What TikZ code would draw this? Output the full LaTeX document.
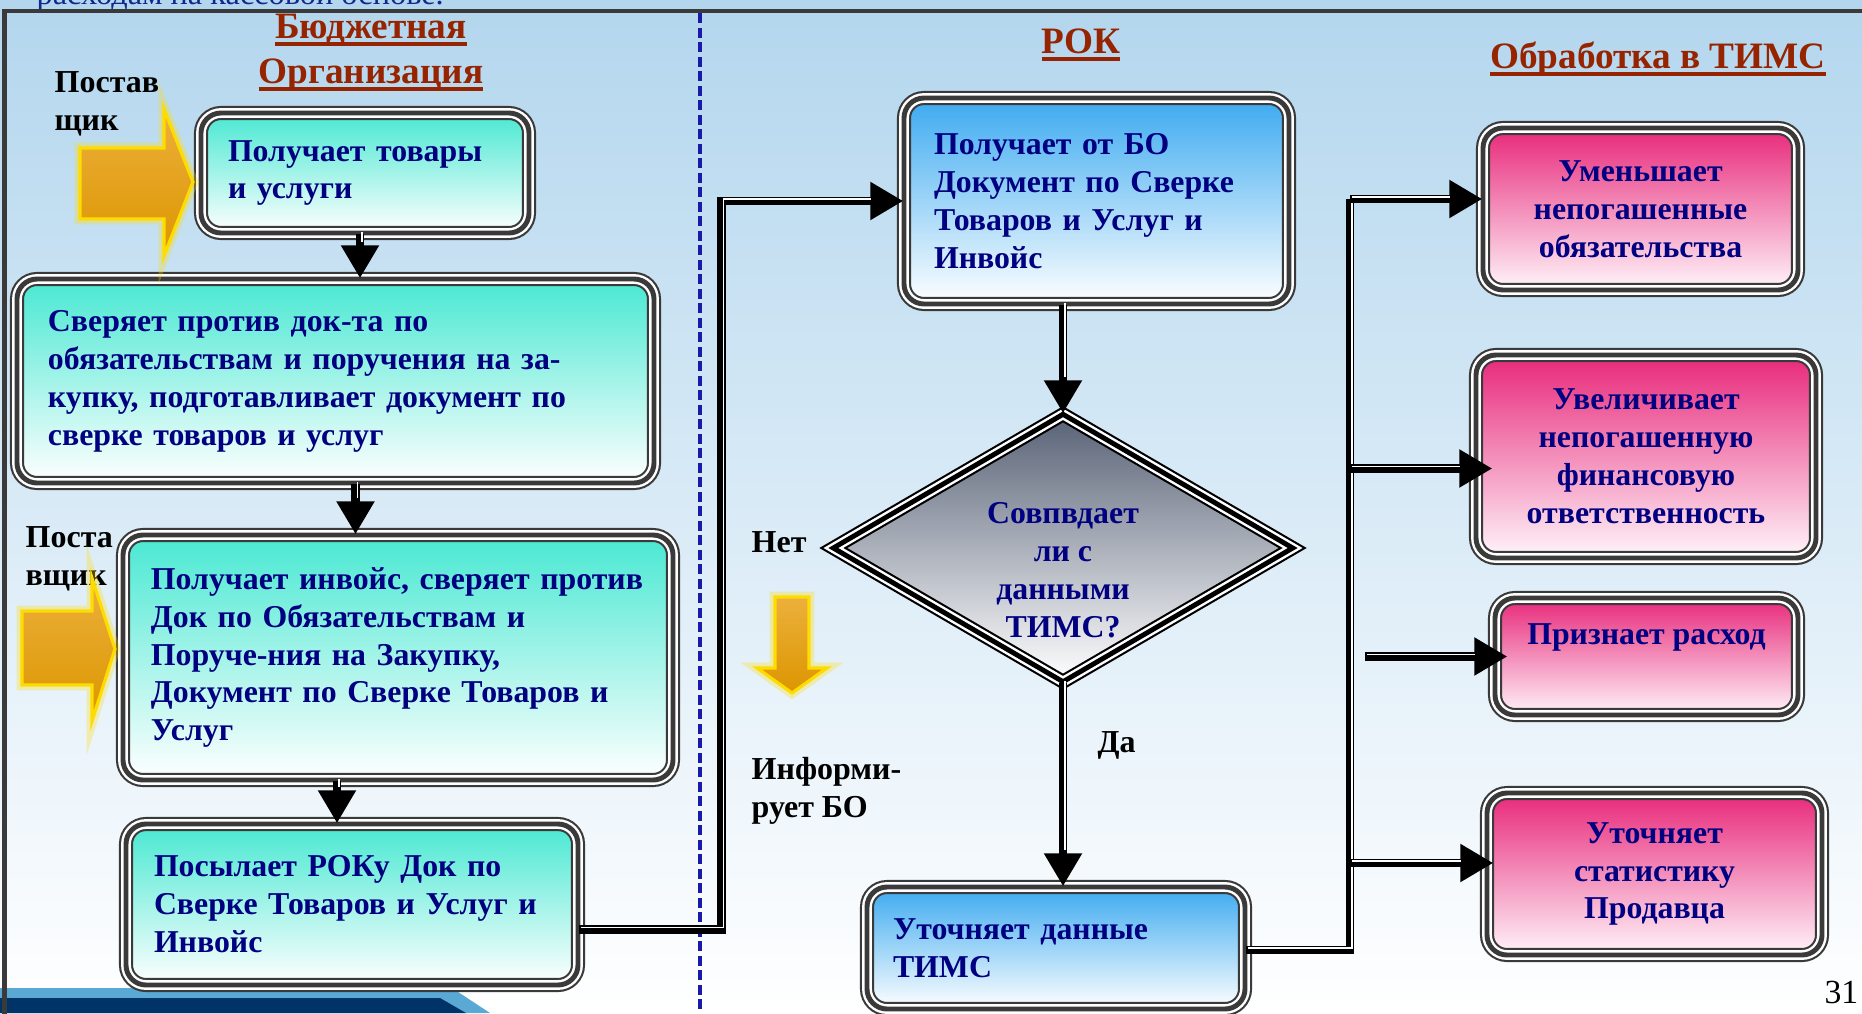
\documentclass[tikz,border=0pt]{standalone}
\usepackage{fontspec}
\setmainfont{Liberation Serif}
\usepackage{xcolor}
\definecolor{navytext}{RGB}{0, 0, 128}
\definecolor{headred}{RGB}{150, 36, 0}
\definecolor{rimgray}{RGB}{58, 58, 58}
\definecolor{skyblue}{RGB}{179, 214, 238}
\definecolor{tealtop}{RGB}{72, 232, 210}
\definecolor{bluetop}{RGB}{60, 170, 240}
\definecolor{pinktop}{RGB}{232, 40, 122}
\definecolor{pinkbot}{RGB}{255, 245, 250}
\definecolor{slatetop}{RGB}{88, 98, 118}
\definecolor{orangetop}{RGB}{236, 176, 60}
\definecolor{orangebot}{RGB}{220, 150, 0}
\definecolor{orangerim}{RGB}{255, 220, 0}
\definecolor{dashblue}{RGB}{25, 25, 170}
\definecolor{stripdark}{RGB}{0, 52, 104}
\definecolor{striplight}{RGB}{90, 168, 212}
\definecolor{topblue}{RGB}{20, 40, 140}
\usepackage{tikz}
\usetikzlibrary{
    shapes.geometric,
    arrows.meta,
    positioning
}
\newcommand{\ulhead}[1]{%
    \setbox0=\hbox{#1}%
    \rlap{\raisebox{-0.075cm}{\rule{\wd0}{0.035cm}}}\box0}
\tikzstyle{box} = [
    rectangle,
    rounded corners=0.2cm,
    text=navytext,
    font=\fontsize{9.05}{10.8}\selectfont\bfseries,
    align=left,
    inner ysep=0.1cm,
    postaction={draw=rimgray, line width=4pt},
    postaction={draw=white, line width=2.8pt},
    postaction={draw=rimgray, line width=1.4pt}
]
\tikzstyle{tealbox} = [box, top color=tealtop, bottom color=white]
\tikzstyle{bluebox} = [box, top color=bluetop, bottom color=white]
\tikzstyle{pinkbox} = [box, top color=pinktop, bottom color=pinkbot, align=center, inner xsep=0.1cm]
\tikzstyle{check} = [
    diamond,
    minimum width=4.6cm,
    minimum height=2.68cm,
    inner sep=0pt,
    top color=slatetop,
    bottom color=white,
    postaction={draw=black, line width=4pt},
    postaction={draw=white, line width=2.8pt},
    postaction={draw=black, line width=1.4pt}
]
\tikzstyle{note} = [
    font=\fontsize{9.1}{10.7}\selectfont\bfseries,
    align=left,
    inner sep=0pt,
    anchor=base west
]
\tikzstyle{wire} = [
    line width=2.4pt,
    draw=black,
    postaction={draw=white, line width=0.45pt,
        transform canvas={shift={(0.55pt,0.55pt)}}}
]
\tikzstyle{arrow} = [
    line width=2.4pt,
    draw=black,
    -{Triangle[length=0.33cm, width=0.36cm]},
    postaction={draw=white, line width=0.45pt, -, shorten >=0.34cm,
        transform canvas={shift={(0.55pt,0.55pt)}}}
]
\tikzstyle{supply} = [
    draw=orangerim,
    line width=0.9pt,
    top color=orangetop,
    bottom color=orangebot,
    preaction={draw=orangerim, line width=3pt, opacity=0.3}
]

\begin{document}
\begin{tikzpicture}[
    heading/.style={
        font=\fontsize{10.6}{12.8}\selectfont\bfseries,
        text=headred,
        align=center,
        inner sep=0pt,
        anchor=base
    }
]
\useasboundingbox (0,0) rectangle (18.62,-10.13);
\shade[top color=skyblue, bottom color=white] (0,0) rectangle (18.62,-10.13);

% Streifen unten links
\fill[striplight] (0,-9.88) -- (4.52,-9.88) -- (4.90,-10.13) -- (0,-10.13) -- cycle;
\fill[stripdark] (0,-9.98) -- (4.40,-9.98) -- (4.66,-10.13) -- (0,-10.13) -- cycle;

\node (topline) [anchor=base west, inner sep=0pt, text=topblue,
    font=\fontsize{9.2}{11}\selectfont] at (0.36,-0.04)
    {расходам на кассовой основе.};

% Rahmen und Trennlinie
\draw[rimgray, line width=1.2pt] (0.045,-10.3) -- (0.045,-0.11) -- (18.8,-0.11);
\draw[dashblue, line width=1.1pt, dash pattern=on 0.1cm off 0.045cm]
    (7.00,-0.13) -- (7.00,-10.13);

\node (hbo) [heading] at (3.71,-0.83) {\ulhead{Бюджетная}\\\ulhead{Организация}};
\node (hrok) [heading] at (10.81,-0.53) {\ulhead{РОК}};
\node (htims) [heading] at (16.58,-0.68) {\ulhead{Обработка в ТИМС}};

\node (sup1) [note] at (0.54,-1.30) {Постав\\щик};
\node (sup2) [note] at (0.25,-5.85) {Поста\\вщик};

% Bloecke der BO
\node (b1) [tealbox, minimum width=3.28cm, minimum height=1.20cm,
    inner xsep=0.27cm, text width=2.74cm] at (3.65,-1.73)
    {Получает товары\\и услуги};
\node (b2) [tealbox, minimum width=6.37cm, minimum height=2.04cm,
    inner xsep=0.31cm, text width=5.75cm] at (3.355,-3.81)
    {Сверяет против док-та  по\\обязательствам и поручения на за-\\купку, подготавливает документ по\\сверке  товаров и услуг};
\node (b3) [tealbox, minimum width=5.50cm, minimum height=2.45cm,
    inner xsep=0.28cm, text width=4.94cm] at (3.98,-6.575)
    {Получает инвойс, сверяет против\\Док по Обязательствам и\\Поруче-ния на Закупку,\\Документ по Сверке Товаров и\\Услуг};
\node (b4) [tealbox, minimum width=4.52cm, minimum height=1.61cm,
    inner xsep=0.28cm, text width=3.96cm] at (3.52,-9.045)
    {Посылает РОКу Док по\\Сверке  Товаров  и Услуг и\\Инвойс};

% Bloecke des ROK
\node (b5) [bluebox, minimum width=3.85cm, minimum height=2.06cm,
    inner xsep=0.30cm, text width=3.25cm] at (10.965,-2.01)
    {Получает от БО\\Документ по Сверке\\Товаров и  Услуг и\\Инвойс};
\node (d) [check] at (10.63,-5.48) {};
\node (dq) [font=\fontsize{9.05}{10.8}\selectfont\bfseries, text=navytext,
    align=center, inner sep=0pt] at ([yshift=-0.22cm]d.center)
    {Совпвдает\\ли с\\данными\\ТИМС?};
\node (b6) [bluebox, minimum width=3.78cm, minimum height=1.22cm,
    inner xsep=0.26cm, text width=3.26cm] at (10.56,-9.48)
    {Уточняет данные\\ТИМС};

% Bloecke TIMS
\node (p1) [pinkbox, minimum width=3.15cm, minimum height=1.62cm] at (16.405,-2.09)
    {Уменьшает\\непогашенные\\обязательства};
\node (p2) [pinkbox, minimum width=3.40cm, minimum height=2.03cm] at (16.46,-4.565)
    {Увеличивает\\непогашенную\\финансовую\\ответственность};
\node (p3) [pinkbox, minimum width=3.03cm, minimum height=1.17cm,
    text depth=0.45cm] at (16.465,-6.565)
    {Признает расход};
\node (p4) [pinkbox, minimum width=3.35cm, minimum height=1.62cm] at (16.545,-8.74)
    {Уточняет\\статистику\\Продавца};

\node (no) [note] at (7.51,-5.52) {Нет};
\node (info) [note] at (7.51,-8.17) {Информи-\\рует БО};
\node (yes) [note] at (10.97,-7.52) {Да};
\node (pnum) [anchor=base east, inner sep=0pt,
    font=\fontsize{9.6}{11}\selectfont] at (18.59,-10.03) {31};

% Lieferanten-Pfeile
\draw[supply] (0.80,-1.48) -- (1.64,-1.48) -- (1.64,-1.09) -- (1.93,-1.82)
    -- (1.64,-2.56) -- (1.64,-2.19) -- (0.80,-2.19) -- cycle;
\draw[supply] (0.22,-6.11) -- (0.92,-6.11) -- (0.92,-5.78) -- (1.15,-6.49)
    -- (0.92,-7.21) -- (0.92,-6.85) -- (0.22,-6.85) -- cycle;
\draw[supply] (7.75,-5.97) -- (8.09,-5.97) -- (8.09,-6.68) -- (8.27,-6.68)
    -- (7.92,-6.93) -- (7.57,-6.68) -- (7.75,-6.68) -- cycle;

% Verbindungen
\draw[arrow] ([xshift=-0.05cm]b1.south) -- ([xshift=-0.05cm]b1.south |- b2.north);
\draw[arrow] ([xshift=0.2cm]b2.south) -- ([xshift=0.2cm]b2.south |- b3.north);
\draw[arrow] ([xshift=-0.15cm]b4.north |- b3.south) -- ([xshift=-0.15cm]b4.north);
\draw[arrow] ([yshift=-0.25cm]b4.east) -- ++(1.43,0) |- (b5.west);
\draw[arrow] (b5.south -| d.north) -- (d.north);
\draw[arrow] (d.south) -- (d.south |- b6.north);

% Sammelschiene
\coordinate (bus) at (13.50,-1.99);
\coordinate (k2) at ([xshift=0.17cm, yshift=-0.12cm]p2.west);
\coordinate (k3) at ([xshift=-1.29cm]p3.west);
\coordinate (k4) at ([xshift=0.07cm, yshift=0.11cm]p4.west);
\draw[wire] ([yshift=-0.02cm]b6.east) -| (bus);
\draw[arrow] (bus) -- (bus -| p1.west);
\draw[arrow] (bus |- k2) -- (k2);
\draw[arrow] (k3) -- ([xshift=0.13cm]p3.west);
\draw[arrow] (bus |- k4) -- (k4);

\end{tikzpicture}
\end{document}
